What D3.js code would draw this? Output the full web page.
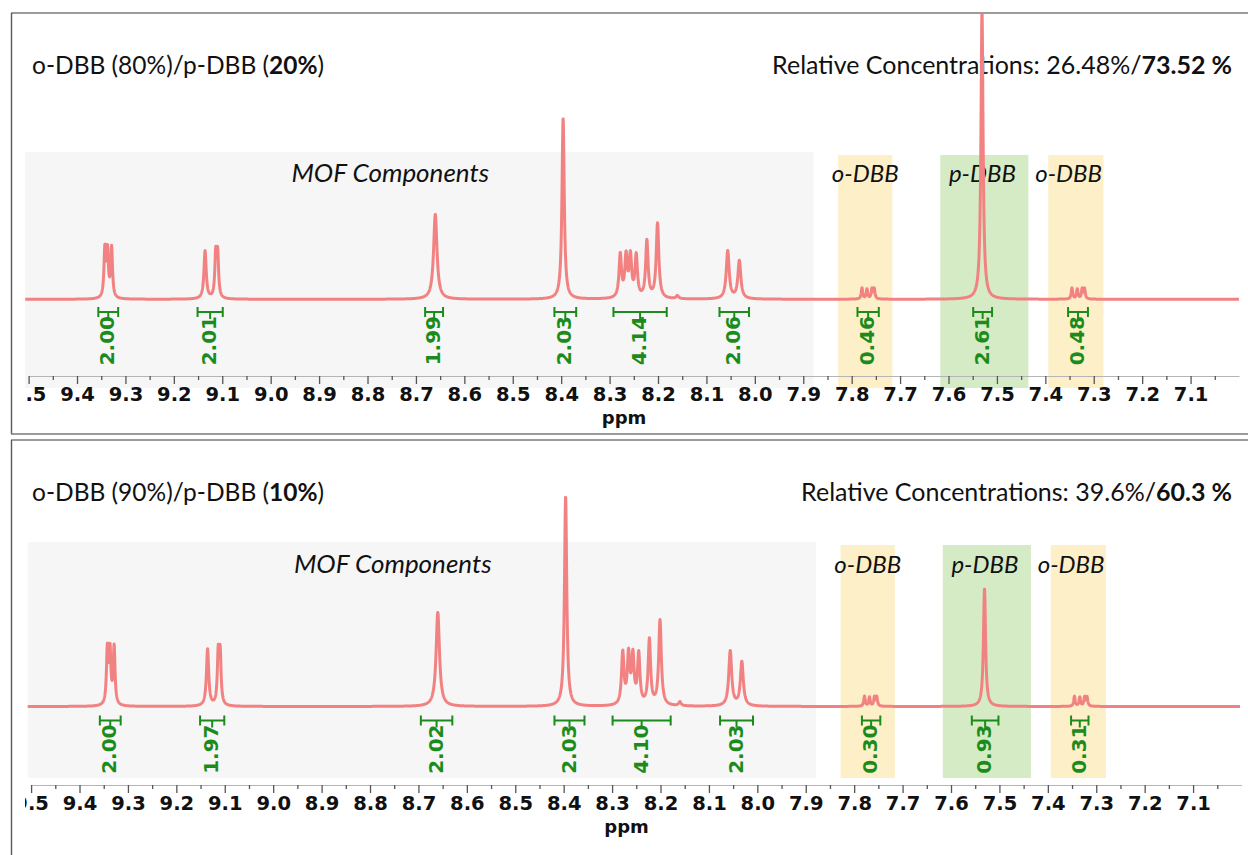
<!DOCTYPE html>
<html>
<head>
<meta charset="utf-8">
<script src="https://cdn.jsdelivr.net/npm/d3@7/dist/d3.min.js"></script>
<style>
  body { margin: 0; background: #fff; }
  svg { display: block; }
</style>
</head>
<body>
<div id="chart"></div>
<script>
// peak list (ppm and half width in ppm)
const peakShifts = [9.3425, 9.337, 9.3285, 9.1355, 9.1135, 9.1095, 8.660, 8.396,
  8.278, 8.266, 8.257, 8.245, 8.223, 8.201, 8.160, 8.056, 8.032,
  7.7787, 7.7684, 7.7581, 7.7533, 7.5308, 7.345, 7.334, 7.324, 7.319];
const peakWidths = [0.0022, 0.0022, 0.0022, 0.0028, 0.0022, 0.0022, 0.0042, 0.0028,
  0.003, 0.003, 0.003, 0.003, 0.003, 0.0032, 0.003, 0.0036, 0.0036,
  0.0018, 0.0018, 0.0018, 0.0018, 0.0026, 0.0018, 0.0018, 0.0018, 0.0018];
// peak heights, 8.40 singlet = 100
const intensity80 = [26.5, 24.9, 27.6, 26.5, 23.3, 23.3, 47, 100,
  23.8, 22.4, 22.4, 23, 31.5, 41.4, 1.7, 26.5, 21,
  6.1, 5.5, 5.5, 5.5, 160, 6.1, 5.5, 5.5, 5.5];
const intensity90 = [26.2, 24.8, 27.6, 27.1, 23.6, 23.6, 44.8, 100,
  24.7, 23.3, 22.6, 23.8, 31, 40.5, 1.9, 26.2, 21,
  4.8, 4.3, 4.3, 4.3, 56.2, 4.8, 4.3, 4.3, 4.3];

// integrals
const integralFrom80 = [9.356, 9.151, 8.681, 8.414, 8.292, 8.073, 7.788, 7.549, 7.353];
const integralTo80   = [9.315, 9.099, 8.644, 8.369, 8.182, 8.012, 7.744, 7.510, 7.312];
const integralVal80  = ["2.00", "2.01", "1.99", "2.03", "4.14", "2.06", "0.46", "2.61", "0.48"];
const integralFrom90 = [9.358, 9.151, 8.695, 8.419, 8.299, 8.077, 7.784, 7.557, 7.352];
const integralTo90   = [9.315, 9.101, 8.630, 8.357, 8.179, 8.009, 7.746, 7.502, 7.316];
const integralVal90  = ["2.00", "1.97", "2.02", "2.03", "4.10", "2.03", "0.30", "0.93", "0.31"];

// shaded regions
const regionNames = ["MOF Components", "o-DBB", "p-DBB", "o-DBB"];
const regionFrom  = [9.507, 7.828, 7.617, 7.394];
const regionTo    = [7.879, 7.716, 7.435, 7.280];
const regionLabelAt = [8.753, 7.772, 7.530, 7.352];
const regionColors = ["#f6f6f6", "#fdf0c8", "#d5ebc5", "#fdf0c8"];

// titles
const title80 = ["o-DBB (80%)/p-DBB (", "20%", ")"];
const conc80  = ["Relative Concentrations: 26.48%/", "73.52 %"];
const title90 = ["o-DBB (90%)/p-DBB (", "10%", ")"];
const conc90  = ["Relative Concentrations: 39.6%/", "60.3 %"];

// axis ticks
const majorTicks = [9.5, 9.4, 9.3, 9.2, 9.1, 9.0, 8.9, 8.8, 8.7, 8.6, 8.5, 8.4, 8.3,
  8.2, 8.1, 8.0, 7.9, 7.8, 7.7, 7.6, 7.5, 7.4, 7.3, 7.2, 7.1];
const minorTicks = majorTicks.map(v => +(v - 0.05).toFixed(2));

const width = 1248, height = 855;
const lineColor = "#f28282", intColor = "#1b8c1b";

const svg = d3.select("#chart")
  .append("svg")
    .attr("width", width)
    .attr("height", height);

const panels = [
  {key: "p80", frameY: 13, frameBottom: 434, titleY: 74, bandTop: 152, bandBottom: 388,
   labelY: 182, baseY: 299.3, peakPx: 181, bracketY: 312, axisY: 376, ppmY: 424, shift: 0,
   intensity: intensity80, from: integralFrom80, to: integralTo80, vals: integralVal80,
   title: title80, conc: conc80},
  {key: "p90", frameY: 440, frameBottom: null, titleY: 501, bandTop: 542, bandBottom: 778,
   labelY: 573, baseY: 706.5, peakPx: 210, bracketY: 720.5, axisY: 785, ppmY: 833, shift: 2.5,
   intensity: intensity90, from: integralFrom90, to: integralTo90, vals: integralVal90,
   title: title90, conc: conc90}
];

function spectrumValue(ppm, intens) {
  let s = 0;
  for (let i = 0; i < peakShifts.length; i++) {
    const t = (ppm - peakShifts[i]) / peakWidths[i];
    s += intens[i] / (1 + t * t);
  }
  return s;
}

const defs = svg.append("defs");

panels.forEach(p => {
  const g = svg.append("g");

  const x = d3.scaleLinear()
    .domain([9.5, 7.0])
    .range([28.6 + p.shift, 1239 + p.shift]);
  const y = d3.scaleLinear()
    .domain([0, 100])
    .range([p.baseY, p.baseY - p.peakPx]);

  // frame
  g.append("line")
    .attr("x1", 11).attr("x2", width).attr("y1", p.frameY).attr("y2", p.frameY)
    .attr("stroke", "#7a7a7a").attr("stroke-width", 1.6);
  g.append("line")
    .attr("x1", 11.5).attr("x2", 11.5).attr("y1", p.frameY)
    .attr("y2", p.frameBottom || height)
    .attr("stroke", "#5a5a5a").attr("stroke-width", 1.4);
  if (p.frameBottom) {
    g.append("line")
      .attr("x1", 11).attr("x2", width).attr("y1", p.frameBottom).attr("y2", p.frameBottom)
      .attr("stroke", "#7a7a7a").attr("stroke-width", 1.4);
  }

  // shaded regions
  g.selectAll("rect.region")
    .data(regionNames)
    .join("rect")
      .attr("class", "region")
      .attr("x", (d, i) => x(regionFrom[i]))
      .attr("width", (d, i) => x(regionTo[i]) - x(regionFrom[i]))
      .attr("y", (d, i) => i === 0 ? p.bandTop : p.bandTop + 3)
      .attr("height", (d, i) => p.bandBottom - (i === 0 ? p.bandTop : p.bandTop + 3))
      .attr("fill", (d, i) => regionColors[i]);

  g.selectAll("text.region")
    .data(regionNames)
    .join("text")
      .attr("class", "region")
      .attr("x", (d, i) => x(regionLabelAt[i]))
      .attr("y", p.labelY)
      .attr("text-anchor", "middle")
      .attr("font-family", "Lato, 'Open Sans', sans-serif")
      .attr("font-style", "italic")
      .attr("font-size", (d, i) => i === 0 ? "26px" : "24px")
      .attr("fill", "#111")
      .text(d => d);

  // titles
  const t1 = g.append("text")
    .attr("x", 32).attr("y", p.titleY)
    .attr("font-family", "Lato, 'Open Sans', sans-serif")
    .attr("font-size", "24.5px")
    .attr("fill", "#111");
  t1.selectAll("tspan")
    .data(p.title)
    .join("tspan")
      .attr("font-weight", (d, i) => i === 1 ? "bold" : "normal")
      .text(d => d);

  const t2 = g.append("text")
    .attr("x", 1232).attr("y", p.titleY)
    .attr("text-anchor", "end")
    .attr("font-family", "Lato, 'Open Sans', sans-serif")
    .attr("font-size", "25px")
    .attr("fill", "#111");
  t2.selectAll("tspan")
    .data(p.conc)
    .join("tspan")
      .attr("font-weight", (d, i) => i === 1 ? "bold" : "normal")
      .text(d => d);

  // axis
  defs.append("clipPath")
    .attr("id", "axclip-" + p.key)
    .append("rect")
      .attr("x", 25).attr("y", p.axisY - 5)
      .attr("width", width - 25).attr("height", 40);

  const axG = g.append("g")
    .attr("clip-path", `url(#axclip-${p.key})`);

  axG.append("g")
    .attr("transform", `translate(0,${p.axisY})`)
    .call(d3.axisBottom(x).tickValues(minorTicks).tickSize(4).tickSizeOuter(0).tickFormat(""))
    .call(a => a.select(".domain").attr("stroke", "#b5b5b5"))
    .call(a => a.selectAll(".tick line").attr("stroke", "#555").attr("stroke-width", 1.3));

  axG.append("g")
    .attr("transform", `translate(0,${p.axisY})`)
    .call(d3.axisBottom(x).tickValues(majorTicks).tickSize(8).tickSizeOuter(0)
      .tickFormat(d3.format(".1f")))
    .call(a => a.select(".domain").remove())
    .call(a => a.selectAll(".tick line").attr("stroke", "#555").attr("stroke-width", 1.3))
    .call(a => a.selectAll(".tick text")
      .attr("font-family", "'DejaVu Sans', Verdana, sans-serif")
      .attr("font-weight", "bold")
      .attr("font-size", "19.5px")
      .attr("fill", "#111"));

  g.append("text")
    .attr("x", x(8.27))
    .attr("y", p.ppmY)
    .attr("text-anchor", "middle")
    .attr("font-family", "'DejaVu Sans', Verdana, sans-serif")
    .attr("font-weight", "bold")
    .attr("font-size", "18px")
    .attr("fill", "#111")
    .text("ppm");

  // integrals
  const ig = g.selectAll("g.integral")
    .data(p.vals)
    .join("g")
      .attr("class", "integral");

  ig.append("path")
    .attr("d", (d, i) => {
      const a = x(p.from[i]), b = x(p.to[i]), m = (a + b) / 2, yb = p.bracketY;
      return `M${a},${yb - 5}V${yb + 5}M${a},${yb}H${b}M${b},${yb - 5}V${yb + 5}M${m},${yb}V${yb + 7}`;
    })
    .attr("fill", "none")
    .attr("stroke", intColor)
    .attr("stroke-width", 2);

  ig.append("text")
    .attr("transform", (d, i) => {
      const m = (x(p.from[i]) + x(p.to[i])) / 2 - 1;
      return `translate(${m},${p.bracketY + 4}) rotate(-90)`;
    })
    .attr("text-anchor", "end")
    .attr("dy", "0.36em")
    .attr("font-family", "'DejaVu Sans', Verdana, sans-serif")
    .attr("font-weight", "bold")
    .attr("font-size", "20px")
    .attr("fill", intColor)
    .text(d => d);

  // spectrum
  defs.append("clipPath")
    .attr("id", "spclip-" + p.key)
    .append("rect")
      .attr("x", 25).attr("y", p.frameY + 1)
      .attr("width", 1215).attr("height", p.bandBottom - p.frameY);

  const grid = d3.range(9.507, 7.0, -0.0004);
  const line = d3.line()
    .x(d => x(d))
    .y(d => y(spectrumValue(d, p.intensity)));

  g.append("path")
    .datum(grid)
    .attr("clip-path", `url(#spclip-${p.key})`)
    .attr("d", line)
    .attr("fill", "none")
    .attr("stroke", lineColor)
    .attr("stroke-width", 3)
    .attr("stroke-linejoin", "round");
});
</script>
</body>
</html>
